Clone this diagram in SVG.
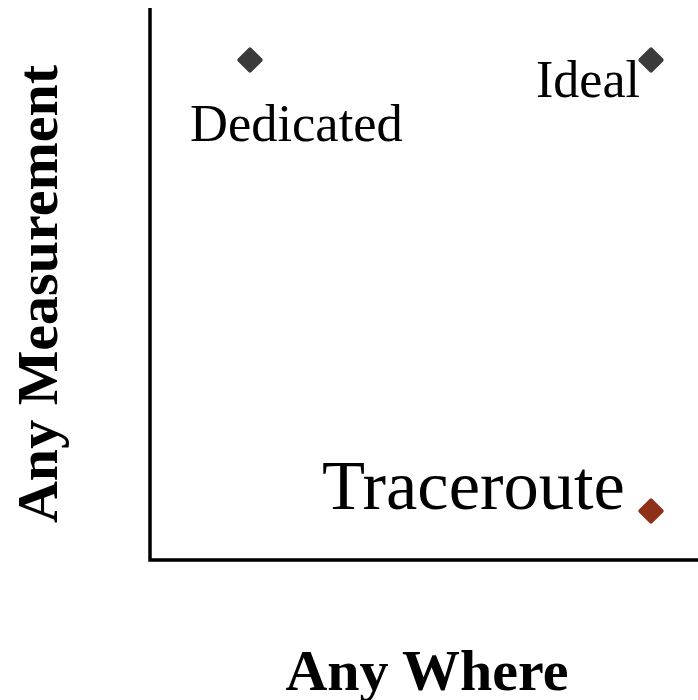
<svg xmlns="http://www.w3.org/2000/svg" width="698" height="700" viewBox="0 0 698 700">
<style>
.lbl{font-family:"Liberation Serif","Times New Roman",serif;fill:#000}
.axt{font-family:"Liberation Serif","Times New Roman",serif;font-weight:bold;fill:#000}
.dk{fill:#3a3a3a}
.rd{fill:#8f3118}
</style>
<rect width="698" height="700" fill="#fff"/>
<g id="axes" stroke="#000" stroke-width="3.5" fill="none">
<polyline points="150,8 150,560 698,560"/>
</g>
<g id="dedicated">
<rect class="dk" x="-9.5" y="-9.5" width="19" height="19" rx="2" transform="translate(250,60) rotate(45)"/>
<text class="lbl" x="190" y="141" font-size="52.5">Dedicated</text>
</g>
<g id="ideal">
<rect class="dk" x="-9.5" y="-9.5" width="19" height="19" rx="2" transform="translate(651,60) rotate(45)"/>
<text class="lbl" x="536" y="97" font-size="52">Ideal</text>
</g>
<g id="traceroute">
<rect class="rd" x="-9.5" y="-9.5" width="19" height="19" rx="2" transform="translate(651,511) rotate(45)"/>
<text class="lbl" x="322" y="509" font-size="70.5">Traceroute</text>
</g>
<text class="axt" x="427" y="690" font-size="58" text-anchor="middle">Any Where</text>
<text class="axt" x="0" y="0" font-size="58" text-anchor="middle" transform="translate(57,294) rotate(-90)">Any Measurement</text>
</svg>
